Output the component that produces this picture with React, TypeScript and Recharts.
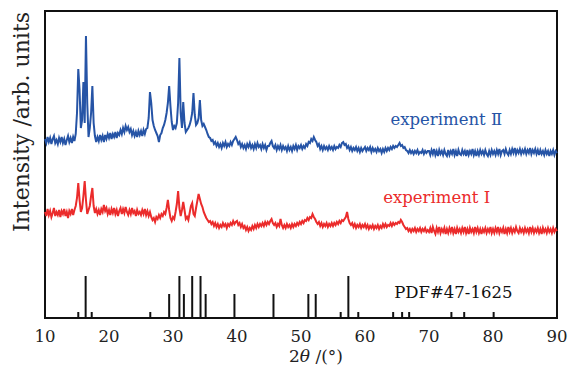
import {
  LineChart,
  Line,
  XAxis,
  YAxis,
  ReferenceLine,
  ReferenceArea,
  ReferenceDot,
  Label,
} from "recharts";

// 2θ sampling: 10° to 90° every 0.2°
const startAngle = 10;
const angleStep = 0.2;

// experiment II (blue), arbitrary intensity, one row per 5°
const expII = [
  179, 175, 181, 176, 180, 174, 179, 182, 175, 178, 174, 180, 176, 181, 175, 179, 173, 178, 182, 176, 180, 175, 181, 177, 184,
  205, 249, 228, 190, 198, 236, 195, 282, 215, 181, 190, 205, 232, 195, 182, 176, 181, 177, 183, 178, 182, 176, 183, 179, 184,
  180, 185, 179, 184, 181, 186, 180, 185, 183, 188, 184, 190, 186, 192, 188, 191, 186, 189, 183, 187, 182, 186, 181, 187, 183,
  187, 182, 188, 184, 189, 190, 200, 226, 215, 198, 192, 188, 185, 182, 176, 183, 185, 190, 193, 198, 205, 215, 232, 212, 196,
  188, 192, 190, 195, 215, 260, 205, 190, 216, 195, 186, 188, 190, 193, 198, 205, 225, 203, 193, 195, 200, 218, 198, 192, 194,
  191, 188, 184, 181, 180, 177, 178, 174, 176, 172, 175, 171, 174, 170, 175, 172, 176, 171, 174, 172, 176, 173, 177, 179, 181,
  178, 174, 176, 171, 174, 170, 173, 169, 174, 171, 175, 170, 173, 169, 174, 170, 175, 171, 173, 169, 174, 170, 173, 168, 172,
  172, 175, 177, 172, 170, 173, 168, 172, 169, 173, 168, 172, 169, 171, 167, 172, 168, 171, 167, 172, 169, 173, 168, 172, 170,
  173, 169, 172, 170, 174, 172, 176, 175, 179, 177, 181, 178, 176, 172, 174, 169, 172, 168, 172, 169, 171, 168, 172, 169, 171,
  168, 172, 169, 171, 170, 173, 171, 175, 176, 173, 174, 170, 172, 168, 171, 167, 170, 168, 171, 167, 170, 166, 170, 167, 169,
  171, 167, 170, 168, 171, 166, 170, 167, 169, 166, 170, 167, 169, 165, 169, 166, 170, 167, 170, 168, 171, 169, 172, 170, 172,
  171, 173, 175, 172, 173, 170, 171, 168, 167, 165, 168, 165, 167, 164, 167, 165, 168, 164, 166, 165, 168, 164, 167, 165, 167,
  167, 163, 168, 164, 169, 163, 167, 162, 168, 164, 167, 163, 168, 164, 162, 168, 163, 167, 164, 169, 163, 167, 162, 168, 164,
  163, 168, 164, 167, 162, 168, 163, 167, 164, 169, 163, 167, 162, 167, 163, 168, 164, 167, 163, 168, 164, 162, 167, 163, 168,
  164, 167, 163, 168, 164, 169, 163, 167, 168, 164, 169, 165, 163, 168, 164, 169, 165, 170, 164, 168, 165, 169, 164, 168, 165,
  169, 164, 168, 165, 170, 164, 168, 165, 169, 164, 168, 163, 168, 164, 167, 163, 168, 164, 167, 162, 167, 164, 168, 163, 167,
  165,
];

// experiment I (red)
const expI = [
  106, 102, 109, 103, 107, 101, 105, 110, 102, 106, 103, 108, 101, 107, 104, 109, 102, 106, 100, 107, 104, 109, 103, 108, 112,
  120, 135, 118, 106, 110, 122, 137, 118, 104, 108, 112, 122, 130, 112, 105, 109, 104, 108, 103, 109, 106, 113, 107, 110, 104,
  108, 103, 109, 105, 110, 104, 108, 102, 107, 110, 104, 109, 105, 111, 106, 103, 108, 104, 110, 105, 107, 102, 108, 104, 106,
  103, 108, 104, 109, 103, 107, 102, 106, 101, 98, 100, 96, 101, 99, 103, 100, 104, 102, 106, 104, 110, 118, 108, 100, 97,
  101, 99, 106, 114, 127, 110, 102, 108, 116, 108, 99, 101, 98, 105, 112, 115, 104, 102, 110, 117, 124, 119, 114, 111, 106,
  103, 100, 98, 96, 97, 94, 96, 92, 95, 91, 94, 90, 93, 91, 95, 92, 94, 90, 94, 92, 95, 93, 97, 94, 96,
  97, 93, 95, 91, 94, 90, 92, 88, 91, 87, 90, 88, 92, 89, 93, 90, 94, 91, 94, 92, 95, 92, 96, 93, 96,
  94, 97, 99, 95, 93, 95, 91, 94, 92, 99, 93, 90, 93, 90, 94, 91, 93, 90, 94, 91, 94, 92, 95, 93, 96,
  94, 97, 95, 98, 97, 100, 98, 101, 100, 104, 101, 99, 96, 94, 96, 92, 95, 91, 94, 92, 95, 91, 94, 92, 95,
  92, 95, 93, 96, 94, 97, 95, 98, 97, 99, 101, 106, 99, 95, 93, 95, 91, 94, 90, 93, 91, 94, 90, 93, 91,
  94, 90, 93, 89, 92, 90, 93, 89, 92, 90, 93, 89, 92, 90, 94, 91, 94, 91, 93, 92, 95, 92, 95, 93, 95,
  94, 96, 95, 98, 96, 93, 91, 89, 90, 87, 89, 86, 89, 87, 90, 86, 89, 87, 90, 86, 89, 87, 90, 86, 88,
  86, 90, 85, 91, 87, 84, 90, 86, 91, 85, 89, 86, 90, 84, 89, 85, 90, 86, 91, 85, 89, 84, 90, 86, 89,
  85, 90, 86, 91, 85, 89, 84, 90, 86, 89, 85, 91, 86, 90, 85, 89, 84, 89, 86, 90, 85, 89, 86, 91, 85,
  89, 85, 90, 86, 91, 85, 89, 86, 90, 84, 89, 85, 91, 86, 90, 85, 89, 86, 91, 87, 85, 90, 86, 89, 85,
  90, 86, 89, 85, 91, 86, 90, 85, 89, 86, 90, 85, 89, 84, 90, 86, 89, 85, 90, 86, 89, 85, 90, 86, 89,
  87,
];

// PDF#47-1625 reference pattern
const pdfAngles = [
  15.2, 16.35, 17.3, 26.45, 29.4, 31.0, 31.7, 33.0, 34.3, 35.1, 39.6, 45.7,
  51.15, 52.3, 56.2, 57.4, 58.95, 64.4, 65.8, 66.9, 73.5, 75.5, 80.1,
];
const pdfHeights = [
  6, 42, 6, 6, 24, 42, 24, 42, 42, 24, 24, 24,
  24, 24, 6, 42, 6, 6, 6, 6, 6, 6, 6,
];

const xTicks = [10, 20, 30, 40, 50, 60, 70, 80, 90];

const BLUE = "#2654a6";
const RED = "#eb2b2b";
const FONT = "'DejaVu Serif', serif";

const data = expII.map((v, i) => ({
  angle: +(startAngle + i * angleStep).toFixed(1),
  exp2: v,
  exp1: expI[i],
}));

const XTitle = (props: any) => {
  const { x, y, width } = props.viewBox;
  return (
    <text
      x={x + width / 2 + 15}
      y={y + 44}
      textAnchor="middle"
      fontFamily={FONT}
      fontSize={17}
      fill="#222"
    >
      2<tspan fontStyle="italic">θ</tspan> /(°)
    </text>
  );
};

export default function App() {
  return (
    <div style={{ position: "absolute", left: 0, top: 0, width: 571, height: 368, background: "#fff" }}>
      <LineChart
        width={571}
        height={368}
        data={data}
        margin={{ top: 11, right: 14, left: 45, bottom: 20 }}
      >
        <XAxis
          dataKey="angle"
          type="number"
          domain={[10, 90]}
          ticks={xTicks}
          axisLine={false}
          tickLine={false}
          tickMargin={6}
          height={30}
          tick={{ fill: "#222", fontSize: 16.5, fontFamily: FONT }}
        >
          <Label content={XTitle} />
        </XAxis>
        <YAxis domain={[0, 307]} hide />

        {pdfAngles.map((a, i) => (
          <ReferenceLine
            key={a}
            segment={[
              { x: a, y: 0 },
              { x: a, y: pdfHeights[i] },
            ]}
            stroke="#111"
            strokeWidth={2}
          />
        ))}

        <Line
          type="linear"
          dataKey="exp2"
          stroke={BLUE}
          strokeWidth={2}
          dot={false}
          isAnimationActive={false}
        />
        <Line
          type="linear"
          dataKey="exp1"
          stroke={RED}
          strokeWidth={2}
          dot={false}
          isAnimationActive={false}
        />

        <ReferenceDot
          x={72.7}
          y={199}
          r={0}
          stroke="none"
          label={{ value: "experiment Ⅱ", position: "center", fill: BLUE, fontSize: 16.5, fontFamily: FONT }}
        />
        <ReferenceDot
          x={71.2}
          y={121}
          r={0}
          stroke="none"
          label={{ value: "experiment Ⅰ", position: "center", fill: RED, fontSize: 16.5, fontFamily: FONT }}
        />
        <ReferenceDot
          x={73.8}
          y={26}
          r={0}
          stroke="none"
          label={{ value: "PDF#47-1625", position: "center", fill: "#111", fontSize: 16.5, fontFamily: FONT }}
        />

        <ReferenceArea
          x1={10}
          x2={90}
          y1={0}
          y2={307}
          fill="none"
          stroke="#111"
          strokeWidth={2}
        />
      </LineChart>
      <div
        style={{
          position: "absolute",
          left: 22,
          top: 122,
          transform: "translate(-50%, -50%) rotate(-90deg)",
          whiteSpace: "nowrap",
          fontFamily: FONT,
          fontSize: 22,
          lineHeight: 1,
          color: "#222",
        }}
      >
        Intensity /arb. units
      </div>
    </div>
  );
}
